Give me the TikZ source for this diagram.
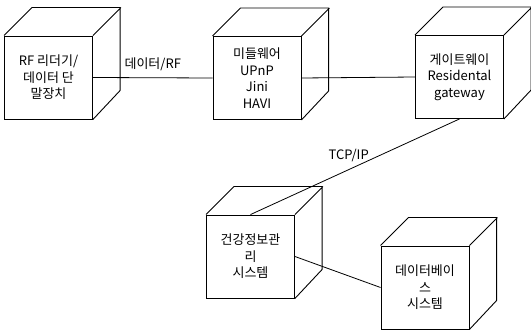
\documentclass[tikz,border=0pt]{standalone}
\usepackage{fontspec}
\setmainfont{Noto Sans CJK KR}
\usepackage{tikz}

\begin{document}
\begin{tikzpicture}[x=1pt, y=1pt, line width=0.9pt,
    every node/.style={font=\fontsize{13}{16.5}\selectfont},
    box/.style={draw, rectangle, minimum width=88pt, minimum height=83pt, inner sep=2pt,
        align=center},
    link/.style={draw, line width=0.8pt}]
    \useasboundingbox (0,0) rectangle (531,330);

    % front faces of the blocks
    \node[box] (rf)  at (48.5,252.5) {RF 리더기/\\데이터 단\\말장치};
    \node[box] (mid) at (257,252)   {미들웨어\\UPnP\\Jini\\HAVI};
    \node[box] (gw)  at (459.5,253) {게이트웨이\\Residental\\gateway};
    \node[box] (hm)  at (250.5,73.5) {건강정보관\\리\\시스템};
    \node[box] (db)  at (425,42.5)  {데이터베이\\스\\시스템};

    % top and side of every block
    \foreach \n in {rf,mid,gw,hm,db}
        \draw (\n.north west) -- ++(28,28) -- ++(88,0) -- ++(0,-83) -- (\n.south east)
              (\n.north east) -- ++(28,28);

    % links
    \draw[link] (rf.east) -- node[above=3pt] {데이터/RF} (mid.west);
    \draw[link] (mid.east) -- (gw.west);
    \draw[link] (gw.south) -- node[pos=0.53, above=4pt] {TCP/IP} (hm.north);
    \draw[link] (hm.east) -- (db.west);
\end{tikzpicture}
\end{document}
